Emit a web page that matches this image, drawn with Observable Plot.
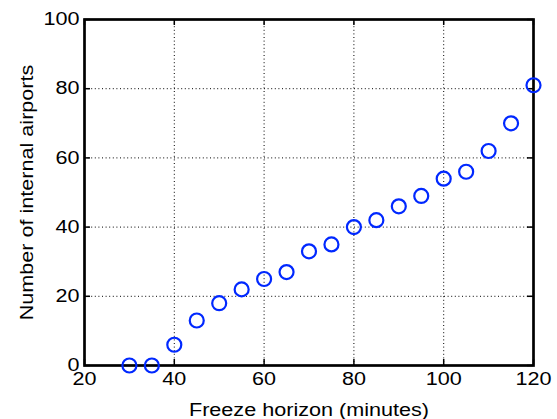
<!DOCTYPE html>
<html><head><meta charset="utf-8">
<script src="https://cdn.jsdelivr.net/npm/d3@7"></script>
<script src="https://cdn.jsdelivr.net/npm/@observablehq/plot@0.6"></script>
<style>body{margin:0;background:#fff} svg{display:block}</style>
</head><body><div id="chart"></div>
<script>
const freezeHorizon = [30, 35, 40, 45, 50, 55, 60, 65, 70, 75, 80, 85, 90, 95, 100, 105, 110, 115, 120];
const internalAirports = [0, 0, 6, 13, 18, 22, 25, 27, 33, 35, 40, 42, 46, 49, 54, 56, 62, 70, 81];
const xTicks = [20, 40, 60, 80, 100, 120];
const yTicks = [0, 20, 40, 60, 80, 100];
const xLabel = "Freeze horizon (minutes)";
const yLabel = "Number of internal airports";

const data = freezeHorizon.map((x, i) => ({x, y: internalAirports[i]}));

const W = 557, H = 419, mL = 84, mR = 24, mT = 19, mB = 54;
const plotW = W - mL - mR, plotH = H - mT - mB, tickLen = 6;

const chart = Plot.plot({
  width: W, height: H,
  marginLeft: mL, marginRight: mR, marginTop: mT, marginBottom: mB,
  style: {fontFamily: "'Liberation Sans', Arial, sans-serif", fontSize: "18px", color: "black", background: "white"},
  x: {domain: [20, 120]},
  y: {domain: [0, 100]},
  marks: [
    Plot.gridX(xTicks, {stroke: "black", strokeOpacity: 1, strokeDasharray: "1,2.6", strokeWidth: 1}),
    Plot.gridY(yTicks, {stroke: "black", strokeOpacity: 1, strokeDasharray: "1,2.6", strokeWidth: 1}),
    Plot.tickX(xTicks, {x: d => d, insetTop: plotH - tickLen, stroke: "black", strokeWidth: 1.5}),
    Plot.tickX(xTicks, {x: d => d, insetBottom: plotH - tickLen, stroke: "black", strokeWidth: 1.5}),
    Plot.tickY(yTicks, {y: d => d, insetRight: plotW - tickLen, stroke: "black", strokeWidth: 1.5}),
    Plot.tickY(yTicks, {y: d => d, insetLeft: plotW - tickLen, stroke: "black", strokeWidth: 1.5}),
    Plot.frame({stroke: "black", strokeWidth: 2.7}),
    Plot.axisX(xTicks, {anchor: "bottom", tickSize: 0, tickPadding: 7, label: xLabel, labelAnchor: "center", labelArrow: "none", labelOffset: 50}),
    Plot.axisY(yTicks, {anchor: "left", tickSize: 0, tickPadding: 5, label: yLabel, labelAnchor: "center", labelArrow: "none", labelOffset: 64}),
    Plot.dot(data, {x: "x", y: "y", r: 7, stroke: "#0028ff", strokeWidth: 2.2, fill: "none"})
  ]
});
document.getElementById("chart").append(chart);
chart.querySelectorAll("text").forEach(t => {
  const len = t.getComputedTextLength();
  if (len > 0) {
    t.setAttribute("textLength", (len * 1.2).toFixed(1));
    t.setAttribute("lengthAdjust", "spacingAndGlyphs");
  }
});
</script>
</body></html>
